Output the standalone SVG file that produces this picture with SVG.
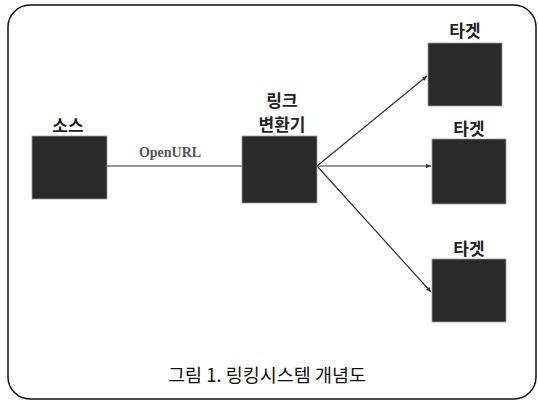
<svg xmlns="http://www.w3.org/2000/svg" width="538" height="402" viewBox="0 0 538 402">
<style>
.box{fill:#2a2a2a;stroke:#9a9a9a;stroke-width:0.8}
.lbl{font-family:"Noto Sans CJK KR","Noto Sans",sans-serif;font-weight:bold;font-size:17px;fill:#222;text-anchor:middle}
.edge{stroke:#333;stroke-width:1.2;fill:none}
.cap{font-family:"Noto Sans CJK KR","Noto Sans",sans-serif;font-size:18.5px;fill:#111;text-anchor:middle}
</style>
<defs>
<marker id="ah" markerWidth="6" markerHeight="6" refX="5" refY="3" orient="auto" markerUnits="userSpaceOnUse">
<path d="M0,0.8 L5,3 L0,5.2 Z" fill="#333"/>
</marker>
</defs>
<rect x="8" y="5" width="528" height="394" rx="22" ry="22" fill="#fff" stroke="#111" stroke-width="1.5"/>
<g id="connectors">
<line class="edge" x1="107" y1="166" x2="242" y2="166"/>
<line class="edge" x1="317" y1="166" x2="427" y2="76" marker-end="url(#ah)"/>
<line class="edge" x1="317" y1="166" x2="431" y2="166" marker-end="url(#ah)"/>
<line class="edge" x1="317" y1="166" x2="431" y2="292" marker-end="url(#ah)"/>
<text x="170" y="157" font-family="Liberation Serif,serif" font-weight="bold" font-size="14" fill="#555" text-anchor="middle">OpenURL</text>
</g>
<g id="source">
<rect class="box" x="32" y="136" width="75" height="63"/>
<text class="lbl" x="68" y="132">소스</text>
</g>
<g id="linker">
<rect class="box" x="242" y="136" width="75" height="67"/>
<text class="lbl" x="282" y="107">링크</text>
<text class="lbl" x="282" y="131">변환기</text>
</g>
<g id="target1">
<rect class="box" x="428" y="43" width="74" height="63"/>
<text class="lbl" x="465" y="37">타겟</text>
</g>
<g id="target2">
<rect class="box" x="432" y="139" width="74" height="65"/>
<text class="lbl" x="469" y="135">타겟</text>
</g>
<g id="target3">
<rect class="box" x="432" y="259" width="74" height="63"/>
<text class="lbl" x="469" y="255">타겟</text>
</g>
<text class="cap" x="267" y="382">그림 1. 링킹시스템 개념도</text>
</svg>
